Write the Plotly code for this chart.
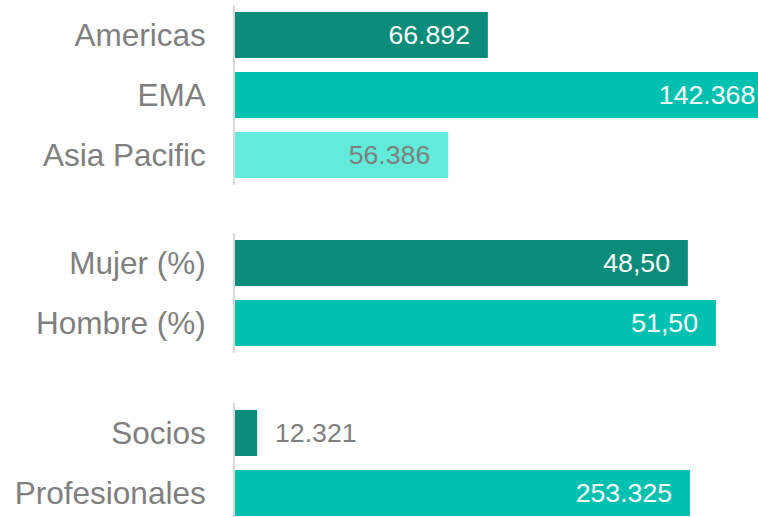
import plotly.graph_objects as go

NB = "\u00a0"

# Group 1: regions
region_cats = ["Americas", "EMA", "Asia Pacific"]
region_vals = [66.892, 142.368, 56.386]
region_labels = ["66.892", "142.368", "56.386"]

# Group 2: gender
gender_cats = ["Mujer (%)", "Hombre (%)"]
gender_vals = [48.50, 51.50]
gender_labels = ["48,50", "51,50"]

# Group 3: staff
staff_cats = ["Socios", "Profesionales"]
staff_vals = [12.321, 253.325]
staff_labels = ["12.321", "253.325"]

DARK = "#0B8B7A"
MID = "#00C1AF"
LIGHT = "#62EBDA"
GRAY = "#7F7F7F"
WHITE = "#FFFFFF"
FONT = "Arial, 'Liberation Sans', sans-serif"
LABEL_SIZE = 26.7
TICK_SIZE = 31.5
BAR_W = 0.767

W, H = 758.0, 517.0

fig = go.Figure()

fig.add_trace(go.Bar(
    y=region_cats, x=region_vals, orientation="h",
    marker=dict(color=[DARK, MID, LIGHT], line=dict(width=0)),
    width=BAR_W,
    text=[t + NB * 2 for t in region_labels],
    textposition="inside", insidetextanchor="end",
    textfont=dict(family=FONT, size=LABEL_SIZE, color=[WHITE, WHITE, GRAY]),
    cliponaxis=True,
    xaxis="x", yaxis="y", showlegend=False, hoverinfo="x+y",
))

fig.add_trace(go.Bar(
    y=gender_cats, x=gender_vals, orientation="h",
    marker=dict(color=[DARK, MID], line=dict(width=0)),
    width=BAR_W,
    text=[t + NB * 2 for t in gender_labels],
    textposition="inside", insidetextanchor="end",
    textfont=dict(family=FONT, size=LABEL_SIZE, color=[WHITE, WHITE]),
    xaxis="x2", yaxis="y2", showlegend=False, hoverinfo="x+y",
))

fig.add_trace(go.Bar(
    y=staff_cats, x=staff_vals, orientation="h",
    marker=dict(color=[DARK, MID], line=dict(width=0)),
    width=BAR_W,
    text=[NB * 2 + staff_labels[0], staff_labels[1] + NB * 2],
    textposition=["outside", "inside"], insidetextanchor="end",
    textfont=dict(family=FONT, size=LABEL_SIZE, color=[GRAY, WHITE]),
    cliponaxis=False,
    xaxis="x3", yaxis="y3", showlegend=False, hoverinfo="x+y",
))

x0 = 235
xdom = [x0 / W, 1.0]
plot_w = W - x0
common_x = dict(domain=xdom, showgrid=False, zeroline=False, showticklabels=False,
                ticks="", showline=False, fixedrange=True)
common_y = dict(type="category", showgrid=False, zeroline=False, ticks="",
                showline=True, linecolor="#D9D9D9", linewidth=2,
                tickfont=dict(family=FONT, size=TICK_SIZE, color=GRAY),
                ticklabelstandoff=21, automargin=False, fixedrange=True)


def ydom(top, bot):
    return [max(0.0, 1 - bot / H), min(1.0, 1 - top / H)]


fig.update_layout(
    width=W, height=H,
    margin=dict(l=0, r=0, t=0, b=0),
    paper_bgcolor="white", plot_bgcolor="white",
    xaxis=dict(common_x, anchor="y", range=[0, plot_w / 3.78]),
    xaxis2=dict(common_x, anchor="y2", range=[0, plot_w / 9.337]),
    xaxis3=dict(common_x, anchor="y3", range=[0, plot_w / 1.796]),
    yaxis=dict(common_y, anchor="x", domain=ydom(5, 185), range=[2.5, -0.5]),
    yaxis2=dict(common_y, anchor="x2", domain=ydom(233, 353), range=[1.5, -0.5]),
    yaxis3=dict(common_y, anchor="x3", domain=ydom(403, 517), range=[1.4, -0.5]),
    bargap=0.233,
)

fig.write_html(
    "out.html",
    config={"displayModeBar": False},
    post_script="document.body.style.margin='0';document.body.style.overflow='hidden';",
)
